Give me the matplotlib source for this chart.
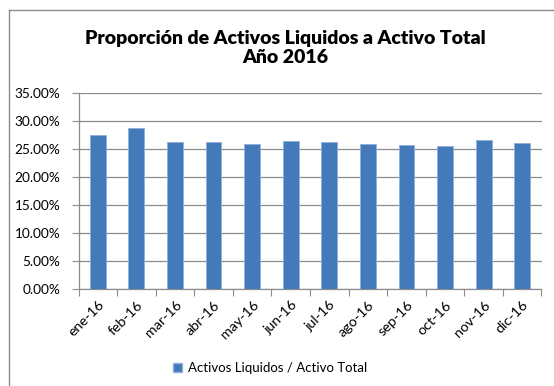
import numpy as np
import matplotlib.pyplot as plt
from matplotlib.lines import Line2D
from matplotlib.patches import Patch
from matplotlib.ticker import FuncFormatter, FixedLocator

# meses y proporcion de activos liquidos sobre activo total (%)
meses = ['ene-16', 'feb-16', 'mar-16', 'abr-16', 'may-16', 'jun-16',
         'jul-16', 'ago-16', 'sep-16', 'oct-16', 'nov-16', 'dic-16']
proporcion = [27.5, 28.75, 26.2, 26.2, 25.9, 26.4,
              26.2, 25.9, 25.75, 25.6, 26.6, 26.05]

titulo = 'Proporción de Activos Liquidos a Activo Total\nAño 2016'
serie = 'Activos Liquidos / Activo Total'

plt.rcParams['font.family'] = ['Lato', 'DejaVu Sans']

fig = plt.figure(figsize=(5.54, 3.86), dpi=100)
ax = fig.add_axes([78.5 / 554, 1 - 289 / 386, 463 / 554, 196 / 386])

x = np.arange(len(meses))
color = '#4479BA'
ax.bar(x, proporcion, width=0.41, color=color, edgecolor='#8FB0DA', linewidth=0.6, zorder=3)

ax.set_xlim(-0.5, len(meses) - 0.5)
ax.set_ylim(0, 35)
ax.set_yticks(np.arange(0, 35.01, 5))
ax.yaxis.set_major_formatter(FuncFormatter(lambda v, p: f'{v:.2f}%'))
ax.grid(axis='y', color='#8c8c8c', linewidth=0.9, zorder=0)

# ticks del eje x en los limites de cada categoria
ax.xaxis.set_major_locator(FixedLocator(np.arange(-0.5, len(meses), 1.0)))
ax.set_xticklabels([])
ax.set_xticks(x, minor=True)
ax.set_xticklabels(meses, minor=True, rotation=45, ha='right', rotation_mode='anchor',
                   fontsize=10.3)
ax.tick_params(axis='x', which='minor', length=0, pad=7)
ax.tick_params(axis='x', which='major', length=5, color='#8c8c8c', direction='out')
ax.tick_params(axis='y', length=5, color='#8c8c8c', labelsize=9.8, pad=8)

for s in ['top', 'right']:
    ax.spines[s].set_visible(False)
for s in ['left', 'bottom']:
    ax.spines[s].set_color('#8c8c8c')
    ax.spines[s].set_linewidth(0.9)

fig.text(285 / 554, 1 - 48 / 386, titulo, ha='center', va='center',
         fontsize=14, fontweight='heavy', linespacing=1.2)

fig.legend(handles=[Patch(facecolor=color, edgecolor='#8FB0DA', label=serie)],
           loc='center', bbox_to_anchor=(270 / 554, 1 - 368 / 386), frameon=False,
           fontsize=9.5, handlelength=0.7, handleheight=0.7, handletextpad=0.4)

# borde del area del grafico
fig.add_artist(Line2D([9 / 554, 1], [1 - 10 / 386, 1 - 10 / 386], color='#8c8c8c', linewidth=1))
fig.add_artist(Line2D([9 / 554, 9 / 554], [0, 1 - 10 / 386], color='#8c8c8c', linewidth=1))

fig.savefig('out.png', dpi=100)
